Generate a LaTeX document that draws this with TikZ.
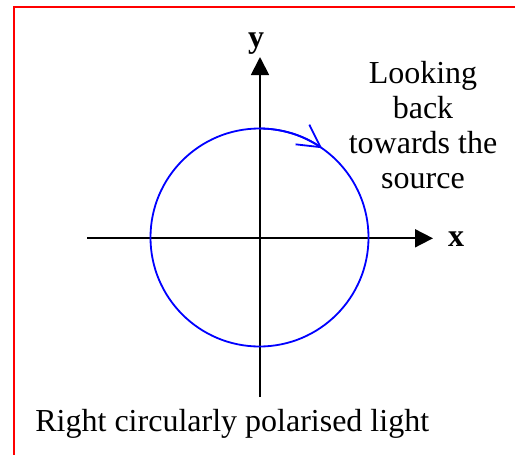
\documentclass[tikz,border=0pt]{standalone}
\usepackage{fontspec}
\setmainfont{Liberation Serif}
\usetikzlibrary{arrows.meta}
\definecolor{frameRed}{RGB}{255,0,0}
\definecolor{waveBlue}{RGB}{0,0,255}

\begin{document}
\begin{tikzpicture}[x=0.5pt, y=-0.5pt,
  axis/.style={line width=0.9pt, -{Triangle[length=9pt,width=9pt]}},
  lbl/.style={inner sep=0pt, font=\fontsize{16}{17.5}\selectfont}]
  \useasboundingbox (0,0) rectangle (515,455);
  % frame
  \draw[frameRed, line width=1pt] (13.5,465) -- (13.5,7) -- (525,7);
  % axes
  \coordinate (O) at (259.5,237.5);
  \coordinate (yfoot) at (260,397);
  \coordinate (ytip) at (260,57);
  \coordinate (xfoot) at (87,238.3);
  \coordinate (xtip) at (433,238.3);
  \draw[axis] (yfoot) -- (ytip);
  \draw[axis] (xfoot) -- (xtip);
  \node[lbl, anchor=base, font=\fontsize{16}{17.5}\selectfont\bfseries] (ylab) at (256,47) {y};
  \node[lbl, anchor=base, font=\fontsize{16}{17.5}\selectfont\bfseries] (xlab) at (456,246) {x};
  % field vector path
  \draw[waveBlue, line width=0.9pt] (O) circle[radius=109];
  \draw[waveBlue, line width=0.9pt, -{Straight Barb[length=11pt,width=12pt]}]
    ([shift={(-90:109)}]O) arc[start angle=-90, end angle=-55, radius=109];
  % texts
  \node[lbl, align=center, anchor=base] (look) at (423,188) {Looking\\back\\towards the\\source};
  \node[lbl, anchor=base west] (caption) at (35,431) {Right circularly polarised light};
\end{tikzpicture}
\end{document}
